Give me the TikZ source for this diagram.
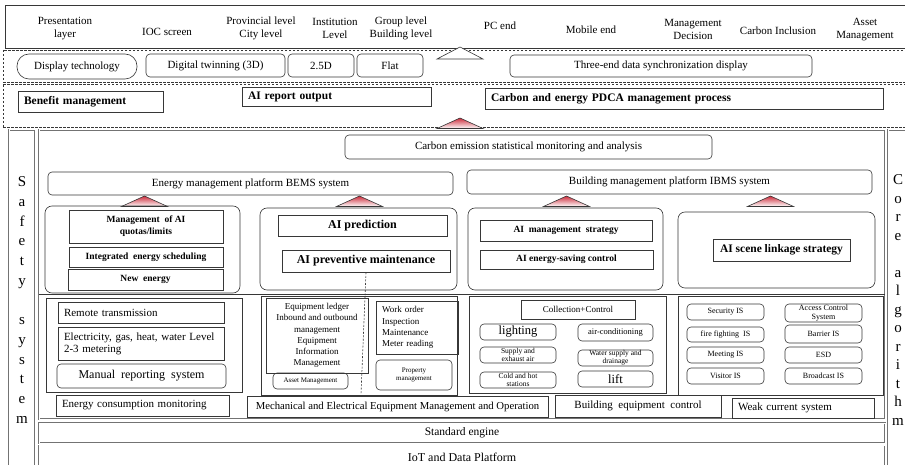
\documentclass[tikz,border=0pt]{standalone}
\usepackage{fontspec}
\setmainfont{Liberation Serif}
\usetikzlibrary{positioning, calc}
\definecolor{linegray}{RGB}{55,55,55}
\definecolor{framegray}{RGB}{115,115,115}
\definecolor{trired}{RGB}{205,45,60}
\newcommand{\fsz}[2]{\fontsize{#1}{#2}\selectfont}
\newcommand{\bsz}[2]{\fontsize{#1}{#2}\selectfont\bfseries}
\tikzset{
  bw/.style       = {minimum width=#1pt},
  bh/.style       = {minimum height=#1pt},
  sbox/.style     = {draw=linegray, line width=0.6pt, inner sep=0pt, align=center, font=\fsz{11}{13}},
  rbox/.style     = {sbox, rounded corners=4pt},
  grp/.style      = {draw=linegray, line width=0.6pt, inner sep=0pt, rounded corners=7pt},
  lft/.style      = {align=left, inner xsep=6pt, text width=#1pt},
  dframe/.style   = {draw=framegray, double=white, double distance=1pt, line width=0.45pt,
                     inner sep=0pt, align=center},
  dashrow/.style  = {draw=linegray, line width=0.5pt, dash pattern=on 2.5pt off 1.5pt, inner sep=0pt},
  tri/.style      = {draw=linegray, line width=0.6pt, top color=trired, bottom color=white},
  hdr/.style      = {align=center, font=\fsz{11}{13.5}},
}

\begin{document}
\begin{tikzpicture}[x=1pt, y=-1pt]
  \useasboundingbox (0,0) rectangle (905,465);

  % presentation layer
  \node[draw=linegray, line width=0.8pt, bw=912, bh=43] (toprow) at (461,26.5) {};
  \foreach \x/\y/\txt [count=\i] in {65/28.5/{Presentation\\layer}, 167/32/{IOC screen},
      261/28.5/{Provincial level\\City level}, 335/28.5/{Institution\\Level},
      401/28.5/{Group level\\Building level}, 500/26/{PC end}, 591/30/{Mobile end},
      693/29.5/{Management\\Decision}, 778/31/{Carbon Inclusion}, 865/29.5/{Asset\\Management}} {
    \node[hdr] (h\i) at (\x,\y) {\txt};
  }

  % display row
  \node[dashrow, bw=914, bh=32] (disprow) at (460,66) {};
  \node[rbox, rounded corners=12pt, bw=120, bh=25] (disptech) at (77,66.5) {Display technology};
  \node[rbox, bw=139, bh=23] (twin) at (215.5,65.5) {Digital twinning (3D)};
  \node[rbox, bw=66, bh=23] (d25) at (321,65.5) {2.5D};
  \node[rbox, bw=66, bh=23] (flat) at (390,65.5) {Flat};
  \node[rbox, bw=302, bh=22] (sync) at (661,66) {Three-end data synchronization display};
  \draw[linegray, line width=0.6pt, fill=white] (437,59) -- (460,47) -- (483,59) -- cycle;

  % benefit row
  \node[dashrow, bw=914, bh=43] (benrow) at (460,105.5) {};
  \node[sbox, font=\bsz{11.5}{13}, lft=133, bw=145, bh=21] (benefit) at (90.5,101.5) {Benefit management};
  \node[sbox, font=\bsz{11.5}{13}, lft=177, bw=189, bh=19] (aireport) at (336.5,96.5) {AI report output};
  \node[sbox, font=\bsz{11.5}{13}, lft=386, bw=398, bh=21] (pdca) at (684,98.5)
    {Carbon and energy PDCA management process};

  % side columns and main frame
  \node[dframe, bw=26, bh=340, font=\fsz{15}{19.7}] (safety) at (22,300)
    {S\\a\\f\\e\\t\\y\\~\\s\\y\\s\\t\\e\\m};
  \node[dframe, bw=20, bh=340, font=\fsz{15}{18.5}] (core) at (898,300)
    {C\\o\\r\\e\\~\\a\\l\\g\\o\\r\\i\\t\\h\\m};
  \node[dframe, bw=846, bh=289] (mainbox) at (462,274.5) {};
  \node[dframe, bw=846, bh=20, font=\fsz{11.5}{13}] (stdeng) at (462,433) {Standard engine};
  \node[dframe, bw=846, bh=24, font=\fsz{12}{14}] (iot) at (462,457.5) {IoT and Data Platform};
  \coordinate (sepl) at (39,294.5);
  \draw[linegray, line width=0.6pt] (sepl) -- (sepl -| mainbox.east);

  % platforms
  \node[rbox, bw=367, bh=24] (carbon) at (528.5,147) {Carbon emission statistical monitoring and analysis};
  \node[rbox, bw=405, bh=23] (bems) at (250.5,183.5) {Energy management platform BEMS system};
  \node[rbox, bw=405, bh=24] (ibms) at (669.5,182) {Building management platform IBMS system};
  \foreach \ax/\ay in {460/118, 144.5/196, 359.5/196, 566.5/196, 770.5/196} {
    \draw[tri] (\ax-23,\ay+10.5) -- (\ax,\ay) -- (\ax+23,\ay+10.5) -- cycle;
  }

  % AI groups
  \node[grp, bw=195, bh=87] (g1) at (142.5,249.5) {};
  \node[grp, bw=197, bh=82] (g2) at (358.5,249) {};
  \node[grp, bw=195, bh=82] (g3) at (565.5,249) {};
  \node[grp, bw=197, bh=76] (g4) at (776.5,250) {};
  \node[sbox, font=\bsz{9.5}{12}, bw=154, bh=33] (quota) at (146,226.5) {Management\ \ of AI\\quotas/limits};
  \node[sbox, font=\bsz{9.5}{12}, bw=154, bh=20] (sched) at (146,257) {Integrated\ \ energy scheduling};
  \node[sbox, font=\bsz{9.5}{12}, bw=155, bh=21] (newen) at (145.5,279.5) {New\ \ energy};
  \node[sbox, font=\bsz{12}{14}, bw=169, bh=21] (aipred) at (362.5,225.5) {AI prediction};
  \node[sbox, font=\bsz{12}{14}, bw=168, bh=22] (aiprev) at (366,261) {AI preventive maintenance};
  \node[sbox, font=\bsz{9.5}{12}, bw=172, bh=21] (aimgmt) at (566,230.5) {AI\ \ management\ \ strategy};
  \node[sbox, font=\bsz{9.5}{12}, bw=173, bh=19] (aisave) at (566.5,259.5) {AI energy-saving control};
  \node[sbox, font=\bsz{11.5}{13}, bw=137, bh=22] (aiscene) at (781.5,250) {AI scene linkage strategy};

  % energy consumption monitoring
  \node[sbox, bw=196, bh=94] (lg1) at (144,345) {};
  \node[sbox, lft=154, bw=166, bh=21] (remote) at (141,312.5) {Remote transmission};
  \node[sbox, lft=154, font=\fsz{11}{12}, bw=166, bh=33] (meter) at (141,343.5)
    {Electricity, gas, heat, water Level\\2-3 metering};
  \node[rbox, font=\fsz{12}{14}, bw=169, bh=24] (manual) at (141.5,376) {Manual\ \ reporting\ \ system};
  \node[sbox, lft=161, bw=173, bh=21] (ecm) at (142.5,405.5) {Energy consumption monitoring};

  % equipment management
  \node[sbox, bw=196, bh=99] (lg2) at (359,345.5) {};
  \node[sbox, font=\fsz{9}{11.3}, bw=102, bh=75] (ledger) at (317,335.5)
    {Equipment ledger\\Inbound and outbound\\management\\Equipment\\Information\\Management};
  \node[rbox, font=\fsz{7}{8.5}, bw=75, bh=16] (asset) at (310.5,381) {Asset Management};
  \node[sbox, lft=70, font=\fsz{9}{11.3}, bw=82, bh=53] (worder) at (417,327.5)
    {Work order\\Inspection\\Maintenance\\Meter reading};
  \node[rbox, font=\fsz{7}{8.5}, bw=76, bh=30] (property) at (414,375) {Property\\management};
  \node[sbox, font=\fsz{10.7}{13}, bw=301, bh=21] (mech) at (397.5,406.5)
    {Mechanical and Electrical Equipment Management and Operation};
  \coordinate (dashend) at (361,394);
  \draw[linegray, line width=0.6pt, dash pattern=on 2pt off 1.5pt] (aiprev.south) -- (dashend);

  % building equipment control
  \node[sbox, bw=197, bh=97] (lg3) at (567.5,344.5) {};
  \node[sbox, font=\fsz{9}{11}, bw=114, bh=19] (collect) at (578,309.5) {Collection+Control};
  \node[rbox, font=\fsz{12.5}{14}, bw=76, bh=16] (light) at (518,332) {lighting};
  \node[rbox, font=\fsz{8.5}{10}, bw=75, bh=17] (aircon) at (615.5,332.5) {air-conditioning};
  \node[rbox, font=\fsz{7.5}{8}, bw=76, bh=16] (supply) at (518,355) {Supply and\\exhaust air};
  \node[rbox, font=\fsz{7.5}{8}, bw=75, bh=16] (water) at (615.5,358) {Water supply and\\drainage};
  \node[rbox, font=\fsz{7.5}{8}, bw=76, bh=16] (coldhot) at (518,380) {Cold and hot\\stations};
  \node[rbox, font=\fsz{12.5}{14}, bw=75, bh=16] (lift) at (615.5,379) {lift};
  \node[sbox, bw=166, bh=22] (bec) at (638,406) {Building\ \ equipment\ \ control};

  % weak current system
  \node[sbox, bw=205, bh=99] (lg4) at (780.5,345.5) {};
  \foreach \x/\y/\h/\txt [count=\i] in {725.5/312/16/Security IS, 725.5/334.5/15/fire fighting\ \ IS,
      725.5/355/16/Meeting IS, 725.5/376/16/Visitor IS, 823.5/313/18/{Access Control\\System},
      823.5/334/18/Barrier IS, 823.5/355/16/ESD, 823.5/376/16/Broadcast IS} {
    \node[rbox, font=\fsz{8}{8.5}, bw=77, bh=\h] (is\i) at (\x,\y) {\txt};
  }
  \node[sbox, lft=130, bw=142, bh=20] (weak) at (803,408) {Weak current system};
\end{tikzpicture}
\end{document}
